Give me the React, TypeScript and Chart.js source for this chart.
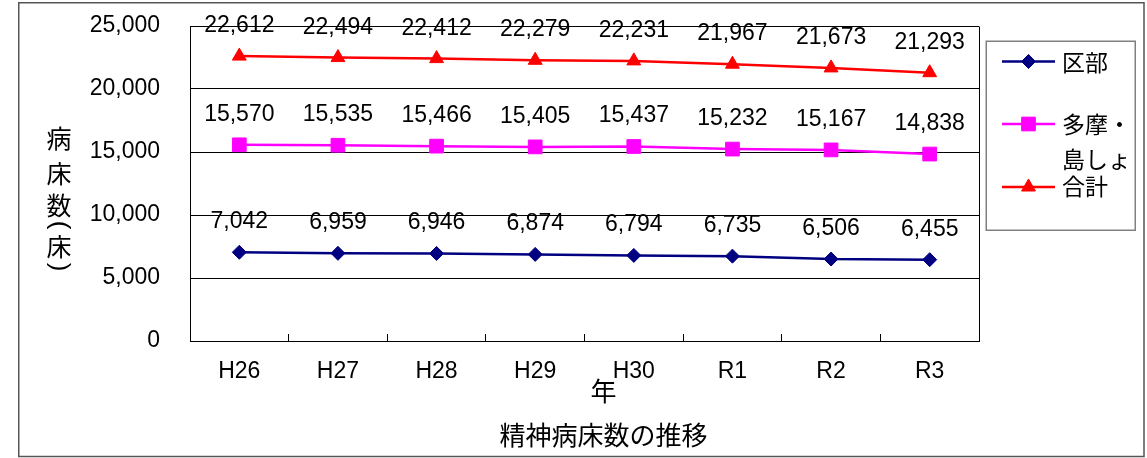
import React, { useEffect, useRef } from 'react';
import { Chart, registerables } from 'chart.js';

Chart.register(...registerables);

// ---- data ----
const categories = ['H26', 'H27', 'H28', 'H29', 'H30', 'R1', 'R2', 'R3'];
const kubuValues = [7042, 6959, 6946, 6874, 6794, 6735, 6506, 6455];
const tamaValues = [15570, 15535, 15466, 15405, 15437, 15232, 15167, 14838];
const totalValues = [22612, 22494, 22412, 22279, 22231, 21967, 21673, 21293];
const seriesNames = ['区部', '多摩・島しょ', '合計'];
const yMin = 0;
const yMax = 25000;
const yStep = 5000;
const chartTitle = '精神病床数の推移';
const xTitle = '年';
const yTitleChars = ['病', '床', '数', '(', '床', ')'];

// ---- styles ----
const colors = ['#000080', '#FF00FF', '#FF0000'];
const pointStyles = ['rectRot', 'rect', 'triangle'];
const pointRadii = [7, 9.7, 8];
const NUM_FONT = '"Liberation Sans", Arial, sans-serif';
const JP_FONT = '"Noto Sans CJK JP", "Noto Sans", sans-serif';

function drawMarker(ctx: CanvasRenderingContext2D, style: string, x: number, y: number, r: number, color: string) {
  ctx.save();
  ctx.fillStyle = color;
  ctx.strokeStyle = color;
  ctx.lineWidth = 1;
  ctx.beginPath();
  if (style === 'rectRot') {
    ctx.moveTo(x - r, y);
    ctx.lineTo(x, y - r);
    ctx.lineTo(x + r, y);
    ctx.lineTo(x, y + r);
    ctx.closePath();
  } else if (style === 'rect') {
    const s = Math.SQRT1_2 * r;
    ctx.rect(x - s, y - s, 2 * s, 2 * s);
  } else {
    ctx.moveTo(x, y - r);
    ctx.lineTo(x + Math.sin((2 * Math.PI) / 3) * r, y - Math.cos((2 * Math.PI) / 3) * r);
    ctx.lineTo(x + Math.sin((4 * Math.PI) / 3) * r, y - Math.cos((4 * Math.PI) / 3) * r);
    ctx.closePath();
  }
  ctx.fill();
  ctx.stroke();
  ctx.restore();
}

const decorPlugin = {
  id: 'decor',
  beforeDraw(chart: any) {
    const ctx: CanvasRenderingContext2D = chart.ctx;
    ctx.save();
    ctx.fillStyle = '#ffffff';
    ctx.fillRect(0, 0, chart.width, chart.height);
    ctx.strokeStyle = '#555555';
    ctx.lineWidth = 1.5;
    ctx.strokeRect(18.75, 2.75, 1144 - 18.75, 456.5 - 2.75);
    ctx.restore();
  },
  beforeDatasetsDraw(chart: any) {
    const ctx: CanvasRenderingContext2D = chart.ctx;
    const a = chart.chartArea;
    ctx.save();
    ctx.strokeStyle = '#000';
    ctx.lineWidth = 1;
    ctx.beginPath();
    const rx = Math.round(a.right) + 0.5;
    ctx.moveTo(rx, Math.round(a.top) + 0.5);
    ctx.lineTo(rx, Math.round(a.bottom) + 0.5);
    ctx.stroke();
    ctx.restore();
  },
  afterDatasetsDraw(chart: any) {
    const ctx: CanvasRenderingContext2D = chart.ctx;
    const a = chart.chartArea;
    ctx.save();
    // data labels
    ctx.fillStyle = '#000';
    ctx.font = `23px ${NUM_FONT}`;
    ctx.textAlign = 'center';
    ctx.textBaseline = 'alphabetic';
    chart.data.datasets.forEach((ds: any, i: number) => {
      const meta = chart.getDatasetMeta(i);
      meta.data.forEach((pt: any, j: number) => {
        const v = ds.data[j] as number;
        ctx.fillText(v.toLocaleString('en-US'), pt.x, pt.y - 24);
      });
    });

    // legend
    const lx = a.right + 7;
    const ly = 41;
    const lw = 1135 - lx;
    const lh = 230 - ly;
    ctx.strokeStyle = '#808080';
    ctx.lineWidth = 1.5;
    ctx.strokeRect(lx + 0.25, ly + 0.25, lw, lh);
    const rowY = [61.5, 124, 187];
    const textLines = [[seriesNames[0]], ['多摩・', '島しょ'], [seriesNames[2]]];
    const textY = [[62], [124, 159], [186]];
    ctx.font = `23px ${JP_FONT}`;
    ctx.textAlign = 'left';
    ctx.textBaseline = 'middle';
    for (let i = 0; i < 3; i++) {
      ctx.strokeStyle = colors[i];
      ctx.lineWidth = 2.5;
      ctx.beginPath();
      ctx.moveTo(lx + 16, rowY[i]);
      ctx.lineTo(lx + 69, rowY[i]);
      ctx.stroke();
      drawMarker(ctx, pointStyles[i], lx + 42.5, rowY[i], pointRadii[i], colors[i]);
      ctx.fillStyle = '#000';
      textLines[i].forEach((t, k) => ctx.fillText(t, lx + 76, textY[i][k]));
    }

    // axis titles and chart title
    const cx = (a.left + a.right) / 2;
    ctx.fillStyle = '#000';
    ctx.textAlign = 'center';
    ctx.textBaseline = 'middle';
    ctx.font = `26px ${JP_FONT}`;
    ctx.fillText(xTitle, cx + 19, 391);
    ctx.fillText(chartTitle, cx + 19, 435);

    const yPos = [138, 173, 205, 225, 246, 267];
    yTitleChars.forEach((c, i) => {
      if (c === '(' || c === ')') {
        ctx.save();
        ctx.translate(59, yPos[i]);
        ctx.rotate(Math.PI / 2);
        ctx.font = `26px ${NUM_FONT}`;
        ctx.fillText(c, 0, 0);
        ctx.restore();
      } else {
        ctx.font = `25px ${JP_FONT}`;
        ctx.fillText(c, 59, yPos[i]);
      }
    });
    ctx.restore();
  },
};

export default function App() {
  const ref = useRef<HTMLCanvasElement | null>(null);

  useEffect(() => {
    if (!ref.current) return;
    const values = [kubuValues, tamaValues, totalValues];
    const chart = new Chart(ref.current, {
      type: 'line',
      data: {
        labels: categories,
        datasets: values.map((d, i) => ({
          label: seriesNames[i],
          data: d,
          borderColor: colors[i],
          backgroundColor: colors[i],
          pointBackgroundColor: colors[i],
          pointBorderColor: colors[i],
          pointStyle: pointStyles[i] as any,
          pointRadius: pointRadii[i],
          pointHoverRadius: pointRadii[i],
          pointBorderWidth: 1,
          borderWidth: 2.5,
          tension: 0,
          fill: false,
        })),
      },
      options: {
        responsive: false,
        animation: false,
        events: [],
        layout: { padding: { left: 0, top: 26, right: 168, bottom: 0 } },
        plugins: {
          legend: { display: false },
          title: { display: false },
          tooltip: { enabled: false },
        },
        scales: {
          x: {
            type: 'category',
            offset: true,
            grid: {
              offset: true,
              drawOnChartArea: false,
              drawTicks: true,
              tickLength: -7,
              color: '#000',
              lineWidth: 1,
            },
            border: { display: true, color: '#000', width: 1 },
            ticks: {
              color: '#000',
              font: { family: NUM_FONT, size: 23 },
              padding: 24,
              maxRotation: 0,
              autoSkip: false,
            },
            afterFit: (s: any) => {
              s.height = 117;
              s.paddingLeft = 0;
              s.paddingRight = 0;
            },
          },
          y: {
            min: yMin,
            max: yMax,
            ticks: {
              stepSize: yStep,
              color: '#000',
              font: { family: NUM_FONT, size: 23 },
              padding: 30,
              callback: (v: any) => Number(v).toLocaleString('en-US'),
            },
            grid: { color: '#000', lineWidth: 1, drawTicks: false },
            border: { display: true, color: '#000', width: 1 },
            afterFit: (s: any) => {
              s.width = 190;
              s.paddingTop = 0;
              s.paddingBottom = 0;
            },
          },
        },
      },
      plugins: [decorPlugin],
    });
    return () => chart.destroy();
  }, []);

  return (
    <div style={{ position: 'fixed', left: 0, top: 0, width: 1147, height: 458, background: '#fff' }}>
      <canvas ref={ref} width={1147} height={458} style={{ display: 'block', width: 1147, height: 458 }} />
    </div>
  );
}
